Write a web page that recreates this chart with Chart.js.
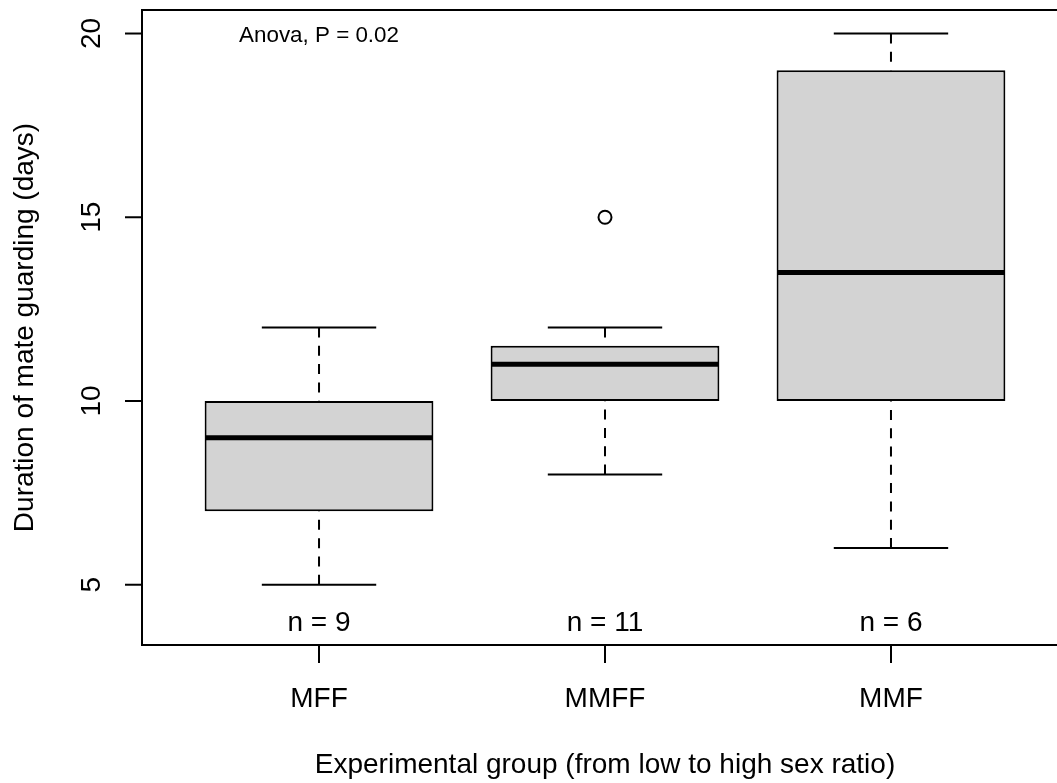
<!DOCTYPE html>
<html>
<head>
<meta charset="utf-8">
<script src="https://cdn.jsdelivr.net/npm/chart.js@4.4.1/dist/chart.umd.min.js"></script>
<style>
  html, body { margin: 0; padding: 0; background: #fff; overflow: hidden; }
  #wrap { position: absolute; left: 0; top: 0; width: 1100px; height: 783px; }
</style>
</head>
<body>
<div id="wrap"><canvas id="guardChart" width="1100" height="783"></canvas></div>
<script>
'use strict';

// data
var groups = ['MFF', 'MMFF', 'MMF'];
var groupPos = [1, 2, 3];
var whiskerLow = [5, 8, 6];
var q1 = [7, 10, 10];
var medians = [9, 11, 13.5];
var q3 = [10, 11.5, 19];
var whiskerHigh = [12, 12, 20];
var outlierGroup = [2];
var outlierValue = [15];
var counts = [9, 11, 6];
var yTicks = [5, 10, 15, 20];

var FONT = '"Liberation Sans", Arial, Helvetica, sans-serif';

var boxplotExtras = {
    id: 'boxplotExtras',
    afterDatasetsDraw: function (chart) {
        var ctx = chart.ctx;
        var a = chart.chartArea;
        var x = chart.scales.x;
        var y = chart.scales.y;
        ctx.save();
        ctx.strokeStyle = '#000';
        ctx.fillStyle = '#000';
        ctx.lineCap = 'butt';

        // whiskers, staples, medians
        groupPos.forEach(function (g, i) {
            var px = x.getPixelForValue(g);
            ctx.lineWidth = 2;
            ctx.setLineDash([10, 8.3]);
            ctx.beginPath();
            ctx.moveTo(px, y.getPixelForValue(whiskerLow[i]));
            ctx.lineTo(px, y.getPixelForValue(q1[i]));
            ctx.stroke();
            ctx.beginPath();
            ctx.moveTo(px, y.getPixelForValue(whiskerHigh[i]));
            ctx.lineTo(px, y.getPixelForValue(q3[i]));
            ctx.stroke();
            ctx.setLineDash([]);

            var c0 = x.getPixelForValue(g - 0.2), c1 = x.getPixelForValue(g + 0.2);
            [whiskerLow[i], whiskerHigh[i]].forEach(function (v) {
                var py = y.getPixelForValue(v);
                ctx.beginPath();
                ctx.moveTo(c0, py);
                ctx.lineTo(c1, py);
                ctx.stroke();
            });

            ctx.lineWidth = 5;
            var pm = y.getPixelForValue(medians[i]);
            ctx.beginPath();
            ctx.moveTo(x.getPixelForValue(g - 0.4) + 1, pm);
            ctx.lineTo(x.getPixelForValue(g + 0.4) - 1, pm);
            ctx.stroke();
        });

        // frame
        ctx.lineWidth = 2;
        ctx.strokeRect(a.left, a.top, a.right - a.left, a.bottom - a.top);

        // y axis ticks and labels
        ctx.font = '28px ' + FONT;
        ctx.textAlign = 'center';
        ctx.textBaseline = 'alphabetic';
        yTicks.forEach(function (v) {
            var py = y.getPixelForValue(v);
            ctx.beginPath();
            ctx.moveTo(a.left - 17, py);
            ctx.lineTo(a.left, py);
            ctx.stroke();
            ctx.save();
            ctx.translate(a.left - 42, py);
            ctx.rotate(-Math.PI / 2);
            ctx.fillText(String(v), 0, 0);
            ctx.restore();
        });

        // x axis ticks and labels
        groupPos.forEach(function (g, i) {
            var px = x.getPixelForValue(g);
            ctx.beginPath();
            ctx.moveTo(px, a.bottom);
            ctx.lineTo(px, a.bottom + 18);
            ctx.stroke();
            ctx.fillText(groups[i], px, a.bottom + 62);
            // sample sizes
            ctx.fillText('n = ' + counts[i], px, y.getPixelForValue(4) + 10);
        });

        // axis titles
        ctx.fillText('Experimental group (from low to high sex ratio)',
            x.getPixelForValue(2), a.bottom + 128);
        ctx.save();
        ctx.translate(a.left - 109, (a.top + a.bottom) / 2);
        ctx.rotate(-Math.PI / 2);
        ctx.fillText('Duration of mate guarding (days)', 0, 0);
        ctx.restore();

        // anova note
        ctx.font = '22.4px ' + FONT;
        ctx.fillText('Anova, P = 0.02', x.getPixelForValue(1), y.getPixelForValue(20) + 8);

        ctx.restore();
    }
};

new Chart(document.getElementById('guardChart'), {
    type: 'bar',
    data: {
        datasets: [{
            type: 'bar',
            data: groupPos.map(function (g, i) { return { x: g, y: [q1[i], q3[i]] }; }),
            backgroundColor: '#d3d3d3',
            borderColor: '#000',
            borderWidth: 2,
            borderSkipped: false,
            barPercentage: 0.8,
            categoryPercentage: 1.0
        }, {
            type: 'scatter',
            data: outlierGroup.map(function (g, i) { return { x: g, y: outlierValue[i] }; }),
            pointStyle: 'circle',
            pointRadius: 6.5,
            pointBorderWidth: 2,
            pointBorderColor: '#000',
            pointBackgroundColor: 'rgba(0,0,0,0)',
            showLine: false
        }]
    },
    options: {
        responsive: false,
        animation: false,
        events: [],
        layout: { padding: { left: 142, top: 10, right: 32, bottom: 138 } },
        scales: {
            x: {
                type: 'linear', min: 0.381, max: 3.619, offset: false, display: false,
                // keep only the group positions as ticks so bar width follows group spacing
                afterBuildTicks: function (scale) {
                    scale.ticks = groupPos.map(function (v) { return { value: v }; });
                }
            },
            y: { type: 'linear', min: 3.36, max: 20.64, display: false }
        },
        plugins: {
            legend: { display: false },
            tooltip: { enabled: false }
        }
    },
    plugins: [boxplotExtras]
});
</script>
</body>
</html>
